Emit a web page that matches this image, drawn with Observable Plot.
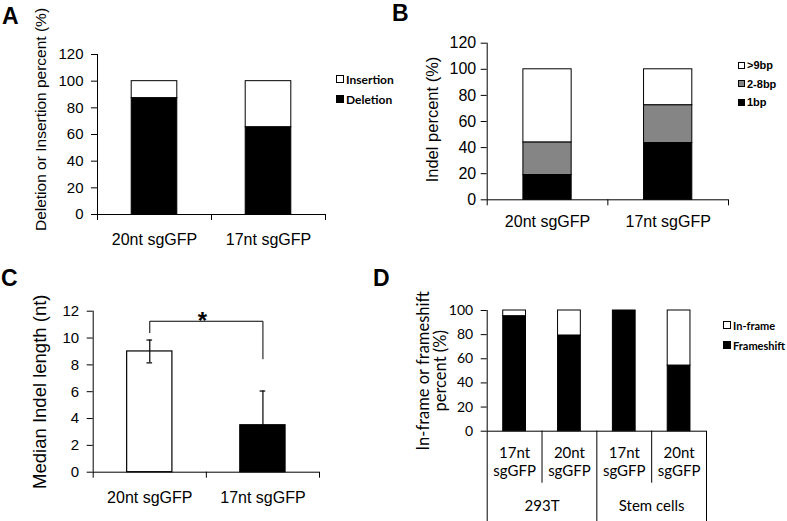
<!DOCTYPE html>
<html><head><meta charset="utf-8">
<script src="https://cdn.jsdelivr.net/npm/d3@7"></script>
<script src="https://cdn.jsdelivr.net/npm/@observablehq/plot@0.6"></script>
<style>
body{margin:0;background:#fff;}
#root{position:relative;width:787px;height:521px;overflow:hidden;background:#fff;}
.panel{position:absolute;}
.panel svg{display:block;overflow:visible;}
.letter{position:absolute;font:bold 23px "Liberation Sans",Arial,sans-serif;line-height:1;color:#000;}
.lrow{position:absolute;display:flex;align-items:center;height:16px;white-space:nowrap;color:#000;font-weight:bold;}
.sw{display:inline-block;border:1px solid #000;box-sizing:border-box;margin-right:2px;}
</style></head><body><div id="root"></div>
<script>
// ---------- data ----------
const catsA = ["20nt sgGFP", "17nt sgGFP"];
const seriesA = ["Deletion", "Insertion"];
const deletionA = [87.3, 65.5];
const insertionA = [12.7, 34.5];
const ticksA = [0, 20, 40, 60, 80, 100, 120];

const catsB = ["20nt sgGFP", "17nt sgGFP"];
const seriesB = ["1bp", "2-8bp", ">9bp"];
const oneBpB = [19, 43.5];
const twoToEightB = [25, 29];
const overNineB = [56, 27.5];
const ticksB = [0, 20, 40, 60, 80, 100, 120];

const catsC = ["20nt sgGFP", "17nt sgGFP"];
const medianC = [9.0, 3.5];
const errorC = [0.85, 2.55];
const ticksC = [0, 2, 4, 6, 8, 10, 12];
const bracketC = [{x: 0.5, y: 10.4}, {x: 0.5, y: 11.25}, {x: 1.5, y: 11.25}, {x: 1.5, y: 8.45}];
const starC = [{x: 0.965, y: 11.25, text: "*"}];

const catsD = ["17nt\nsgGFP", "20nt\nsgGFP", "17nt\nsgGFP", "20nt\nsgGFP"];
const groupsD = ["293T", "Stem cells"];
const seriesD = ["Frameshift", "In-frame"];
const frameshiftD = [95.3, 79.3, 100, 54.4];
const inframeD = [4.7, 20.7, 0, 45.6];
const ticksD = [0, 20, 40, 60, 80, 100];

// ---------- helpers ----------
const root = document.getElementById("root");
function stackRows(cats, names, valueLists) {
  const rows = [];
  cats.forEach((c, i) => {
    let acc = 0;
    names.forEach((n, k) => {
      const v = valueLists[k][i];
      rows.push({i, cat: c, series: n, y1: acc, y2: acc + v});
      acc += v;
    });
  });
  return rows;
}
function place(node, left, top) {
  const d = document.createElement("div");
  d.className = "panel"; d.style.left = left + "px"; d.style.top = top + "px";
  d.appendChild(node); root.appendChild(d);
}
function letter(t, left, top) {
  const d = document.createElement("div");
  d.className = "letter"; d.textContent = t;
  d.style.left = left + "px"; d.style.top = top + "px"; root.appendChild(d);
}
function legend(items, left, tops, font, swSize, fills) {
  items.forEach((name, k) => {
    const r = document.createElement("div");
    r.className = "lrow"; r.style.left = left + "px"; r.style.top = (tops[k] - 8) + "px";
    r.style.font = font;
    const s = document.createElement("span");
    s.className = "sw"; s.style.width = swSize + "px"; s.style.height = swSize + "px";
    s.style.background = fills[k];
    r.appendChild(s);
    const t = document.createElement("span"); t.textContent = name; r.appendChild(t);
    root.appendChild(r);
  });
}
const ARIAL = "'Liberation Sans', Arial, sans-serif";
const LATO = "Lato, 'Open Sans', sans-serif";
const BAR = 0.4;
const titleOpts = {frameAnchor: "left", rotate: -90, textAnchor: "middle", lineAnchor: "top"};

// ---------- Panel A ----------
const rowsA = stackRows(catsA, seriesA, [deletionA, insertionA]);
const plotA = Plot.plot({
  width: 330, height: 260, marginLeft: 97, marginRight: 5, marginTop: 54, marginBottom: 46,
  style: {fontFamily: ARIAL, fontSize: "15px", color: "#000", background: "transparent"},
  x: {domain: [0, 2], ticks: [0, 1, 2], tickFormat: () => "", tickSize: 6, label: null},
  y: {domain: [0, 120], ticks: ticksA, tickSize: 6, tickPadding: 8, label: null},
  color: {domain: seriesA, range: ["#000", "#fff"]},
  marks: [
    Plot.rectY(rowsA, {x1: d => d.i + 0.5 - BAR / 2, x2: d => d.i + 0.5 + BAR / 2, y1: "y1", y2: "y2", fill: "series", stroke: "#000", strokeWidth: 1}),
    Plot.ruleX([0], {stroke: "#000"}),
    Plot.ruleY([0], {stroke: "#000"}),
    Plot.text(catsA, {x: (d, i) => i + 0.5, y: 0, dy: 25, text: d => d, fontSize: 16, lineAnchor: "middle"}),
    Plot.text(["Deletion or Insertion percent (%)"], {...titleOpts, dx: -63, dy: -15, fontSize: 15.5})
  ]
});
place(plotA, 0, 0);
legend(["Insertion", "Deletion"], 336, [79, 99], "bold 12px " + LATO, 8, ["#fff", "#000"]);

// ---------- Panel B ----------
const rowsB = stackRows(catsB, seriesB, [oneBpB, twoToEightB, overNineB]);
const plotB = Plot.plot({
  width: 345, height: 240, marginLeft: 96.7, marginRight: 7, marginTop: 42.7, marginBottom: 40.7,
  style: {fontFamily: ARIAL, fontSize: "16px", color: "#000", background: "transparent"},
  x: {domain: [0, 2], ticks: [0, 1, 2], tickFormat: () => "", tickSize: 6, label: null},
  y: {domain: [0, 120], ticks: ticksB, tickSize: 6, tickPadding: 5, label: null},
  color: {domain: seriesB, range: ["#000", "#858585", "#fff"]},
  marks: [
    Plot.rectY(rowsB, {x1: d => d.i + 0.5 - BAR / 2, x2: d => d.i + 0.5 + BAR / 2, y1: "y1", y2: "y2", fill: "series", stroke: "#000", strokeWidth: 1}),
    Plot.ruleX([0], {stroke: "#000"}),
    Plot.ruleY([0], {stroke: "#000"}),
    Plot.text(catsB, {x: (d, i) => i + 0.5, y: 0, dy: 22.5, text: d => d, fontSize: 16, lineAnchor: "middle"}),
    Plot.text(["Indel percent (%)"], {...titleOpts, dx: -61, dy: -2, fontSize: 16.5})
  ]
});
place(plotB, 390, 0);
legend([">9bp", "2-8bp", "1bp"], 738, [65, 83.5, 102], "bold 11px " + ARIAL, 7, ["#fff", "#858585", "#000"]);

// ---------- Panel C ----------
const rowsC = catsC.map((c, i) => ({i, cat: c, v: medianC[i], e: errorC[i]}));
const plotC = Plot.plot({
  width: 330, height: 261, marginLeft: 92.7, marginRight: 11, marginTop: 50.7, marginBottom: 49.3,
  style: {fontFamily: ARIAL, fontSize: "15px", color: "#000", background: "transparent"},
  x: {domain: [0, 2], ticks: [0, 1, 2], tickFormat: () => "", tickSize: 6, label: null},
  y: {domain: [0, 12], ticks: ticksC, tickSize: 6, tickPadding: 8, label: null},
  color: {domain: catsC, range: ["#fff", "#000"]},
  marks: [
    Plot.rectY(rowsC, {x1: d => d.i + 0.5 - BAR / 2, x2: d => d.i + 0.5 + BAR / 2, y1: 0, y2: "v", fill: "cat", stroke: "#000", strokeWidth: 1.2}),
    Plot.ruleX(rowsC, {x: d => d.i + 0.5, y1: d => d.v - d.e, y2: d => d.v + d.e, stroke: "#000", strokeWidth: 1.2}),
    Plot.ruleY(rowsC, {y: d => d.v + d.e, x1: d => d.i + 0.475, x2: d => d.i + 0.525, stroke: "#000", strokeWidth: 1.2}),
    Plot.ruleY(rowsC, {y: d => d.v - d.e, x1: d => d.i + 0.475, x2: d => d.i + 0.525, stroke: "#000", strokeWidth: 1.2}),
    Plot.line(bracketC, {x: "x", y: "y", stroke: "#000", strokeWidth: 1}),
    Plot.text(starC, {x: "x", y: "y", text: "text", fontSize: 24, fontWeight: "bold", lineAnchor: "middle"}),
    Plot.ruleX([0], {stroke: "#000"}),
    Plot.ruleY([0], {stroke: "#000"}),
    Plot.text(catsC, {x: (d, i) => i + 0.5, y: 0, dy: 25.3, text: d => d, fontSize: 16, lineAnchor: "middle"}),
    Plot.text(["Median Indel length (nt)"], {...titleOpts, dx: -60, dy: 0, fontSize: 18.5})
  ]
});
place(plotC, 0, 260);

// ---------- Panel D ----------
const rowsD = stackRows(catsD, seriesD, [frameshiftD, inframeD]).filter(d => d.y2 > d.y1);
const plotD = Plot.plot({
  width: 320, height: 261, marginLeft: 96.7, marginRight: 4, marginTop: 50, marginBottom: 90.3,
  style: {fontFamily: LATO, fontSize: "14px", color: "#000", background: "transparent"},
  x: {domain: [0, 4], axis: null},
  y: {domain: [0, 100], ticks: ticksD, tickSize: 6, tickPadding: 8, label: null},
  color: {domain: seriesD, range: ["#000", "#fff"]},
  marks: [
    Plot.rectY(rowsD, {x1: d => d.i + 0.5 - 0.415 / 2, x2: d => d.i + 0.5 + 0.415 / 2, y1: "y1", y2: "y2", fill: "series", stroke: "#000", strokeWidth: 1}),
    Plot.ruleX([0], {stroke: "#000"}),
    Plot.ruleY([0], {stroke: "#000"}),
    Plot.ruleX([1, 3], {x: d => d, y1: 0, y2: 0, insetBottom: -52, stroke: "#000"}),
    Plot.ruleX([0, 2, 4], {x: d => d, y1: 0, y2: 0, insetBottom: -92, stroke: "#000"}),
    Plot.text(catsD, {x: (d, i) => i + 0.5, y: 0, dy: 30, text: d => d, fontSize: 15, lineAnchor: "middle", lineHeight: 1.2}),
    Plot.text(groupsD, {x: (d, i) => i * 2 + 1, y: 0, dy: 74.5, text: d => d, fontSize: 15, lineAnchor: "middle"}),
    Plot.text(["In-frame or frameshift\npercent (%)"], {...titleOpts, dx: -71, dy: 0, fontSize: 16.5, lineHeight: 1.05})
  ]
});
place(plotD, 390, 260);
legend(["In-frame", "Frameshift"], 723, [325, 345], "bold 11px " + LATO, 8, ["#fff", "#000"]);

// ---------- panel letters ----------
letter("A", 2, 5);
letter("B", 392, 2);
letter("C", 1, 267);
letter("D", 373, 267);
</script>
</body></html>
